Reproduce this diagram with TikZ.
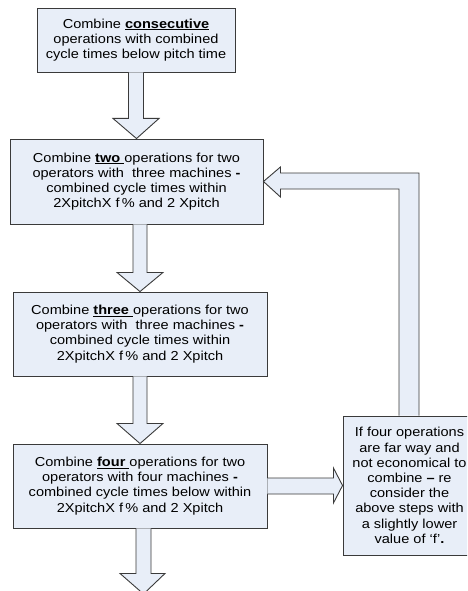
\documentclass[tikz,border=0pt]{standalone}
\usepackage{fontspec}
\setmainfont{Liberation Sans}[FakeStretch=1.12]
\usetikzlibrary{calc}
\definecolor{boxfill}{HTML}{E8EEF8}
\definecolor{boxline}{HTML}{3A3A3A}
\newcommand{\kw}[1]{\underline{\textbf{#1}}}
\begin{document}
\begin{tikzpicture}[x=1pt,y=-1pt,
  stepbox/.style={draw=boxline,fill=boxfill,line width=0.9pt,inner sep=0pt,
    align=center,font=\fontsize{13}{15.2}\selectfont},
  barrow/.style={draw=boxline,fill=boxfill,line width=0.9pt,line join=miter}]
\clip (0,0) rectangle (467,591);
\fill[white] (0,0) rectangle (467,591);
% boxes
\node[stepbox,minimum width=198pt,minimum height=64pt] (b1) at (136,40)
  {Combine \kw{consecutive}\\operations with combined\\cycle times below pitch time};
\node[stepbox,minimum width=253pt,minimum height=85pt] (b2) at (136.5,181.5)
  {Combine \kw{two }operations for two\\operators with\ \ three machines \textbf{-}\\combined cycle times within\\2XpitchX f\,\% and 2 Xpitch};
\node[stepbox,minimum width=254pt,minimum height=84pt] (b3) at (140,334)
  {Combine \kw{three }operations for two\\operators with\ \ three machines \textbf{-}\\combined cycle times within\\2XpitchX f\,\% and 2 Xpitch};
\node[stepbox,minimum width=254pt,minimum height=84pt] (b4) at (140,486)
  {Combine \kw{four }operations for two\\operators with four machines \textbf{-}\\combined cycle times below within\\2XpitchX f\,\% and 2 Xpitch};
\node[stepbox,minimum width=133pt,minimum height=139pt] (b5) at (409.5,485.5)
  {If four operations\\are far way and\\not economical to\\combine \textbf{--} re\\consider the\\above steps with\\a slightly lower\\value of ‘f’\textbf{.}};
\coordinate (endpt) at (143.5,594);
% arrow b1 -> b2
\draw[barrow] ($(b1.south)+(-7.5,0)$) -- ($(b1.south)+(-7.5,46)$) -- ($(b1.south)+(-23,46)$)
  -- (b2.north) -- ($(b1.south)+(23,46)$) -- ($(b1.south)+(7.5,46)$) -- ($(b1.south)+(7.5,0)$);
% arrow b2 -> b3
\draw[barrow] ($(b2.south)+(-3.5,0)$) -- ($(b2.south)+(-3.5,48)$) -- ($(b2.south)+(-19.5,48)$)
  -- ($(b3.north)+(0,0)$) -- ($(b2.south)+(26.5,48)$) -- ($(b2.south)+(10.5,48)$) -- ($(b2.south)+(10.5,0)$);
% arrow b3 -> b4
\draw[barrow] ($(b3.south)+(-7,0)$) -- ($(b3.south)+(-7,47)$) -- ($(b3.south)+(-23,47)$)
  -- (b4.north) -- ($(b3.south)+(23,47)$) -- ($(b3.south)+(7,47)$) -- ($(b3.south)+(7,0)$);
% arrow b4 -> end
\draw[barrow] ($(b4.south)+(-4,0)$) -- ($(b4.south)+(-4,45)$) -- ($(b4.south)+(-20,45)$)
  -- (endpt) -- ($(b4.south)+(25,45)$) -- ($(b4.south)+(11,45)$) -- ($(b4.south)+(11,0)$);
% arrow b4 -> b5
\draw[barrow] ($(b4.east)+(0,-8)$) -- ($(b4.east)+(66,-8)$) -- ($(b4.east)+(66,-18)$)
  -- (b5.west) -- ($(b4.east)+(66,17)$) -- ($(b4.east)+(66,8)$) -- ($(b4.east)+(0,8)$);
% feedback arrow b5 -> b2
\coordinate (fbl) at ($(b5.north)+(-10.5,0)$);
\coordinate (fbr) at ($(b5.north)+(9.5,0)$);
\coordinate (fbi) at ($(b2.east)+(0,7.5)$);
\coordinate (fbo) at ($(b2.east)+(0,-8.5)$);
\draw[barrow] (fbl) -- (fbl |- fbi) -- ($(fbi)+(17,0)$) -- ($(b2.east)+(17,15.5)$)
  -- (b2.east) -- ($(b2.east)+(17,-14.5)$) -- ($(fbo)+(17,0)$) -- (fbr |- fbo) -- (fbr);
\end{tikzpicture}
\end{document}
